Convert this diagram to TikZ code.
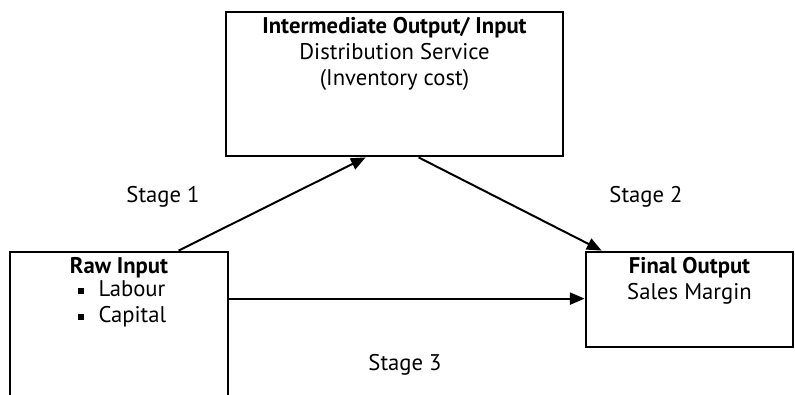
\documentclass[tikz,border=0pt]{standalone}
\usepackage{fontspec}
\setmainfont{PT Sans}
\usetikzlibrary{positioning, calc, arrows.meta}

\tikzset{
  box/.style={draw, rectangle, line width=2.1pt, inner sep=0pt},
  flow/.style={line width=1.5pt, -{Triangle[length=11pt,width=9pt]}},
  boxtext/.style={align=center, anchor=north, inner sep=0pt, font=\fontsize{17}{19.5}\selectfont},
  stagelabel/.style={anchor=base, inner sep=0pt, font=\fontsize{17}{19.5}\selectfont}
}
\newcommand{\sqbullet}{\rule[0.25ex]{4.5pt}{4.5pt}}

\begin{document}
\begin{tikzpicture}[x=0.75pt, y=-0.75pt]
    \useasboundingbox (0,0) rectangle (795,394);

    % Boxes
    \node[box, minimum width=252.75pt, minimum height=108pt] (inter) at (394.5,84) {};
    \node[box, minimum width=163.5pt, minimum height=126pt] (raw) at (119,336) {};
    \node[box, minimum width=155.25pt, minimum height=71.25pt] (final) at (689.5,299.5) {};

    % Box texts
    \node[boxtext, below=5pt of inter.north] (intertext)
        {\textbf{Intermediate Output/ Input}\\Distribution Service\\(Inventory cost)};
    \node[boxtext, below=5pt of raw.north] (rawtitle) {\textbf{Raw Input}};
    \node[boxtext, align=left, anchor=north west] (rawlist) at ($(raw.north west)+(69,30)$)
        {\sqbullet\hspace{11pt}Labour\\\sqbullet\hspace{11pt}Capital};
    \node[boxtext, below=5pt of final.north] (finaltext) {\textbf{Final Output}\\Sales Margin};

    % Stage arrows
    \draw[flow] ($(raw.north west)+(170,0)$) -- ($(inter.south west)+(141,0)$);
    \draw[flow] ($(inter.south west)+(194,0)$) -- ($(final.north west)+(17,0)$);
    \draw[flow] ($(raw.north east)+(0,48)$) -- ($(final.north west)+(0,48)$);

    % Stage labels
    \node[stagelabel] (stage1) at (163,202) {Stage 1};
    \node[stagelabel] (stage2) at (646,202) {Stage 2};
    \node[stagelabel] (stage3) at (405,370) {Stage 3};
\end{tikzpicture}
\end{document}
